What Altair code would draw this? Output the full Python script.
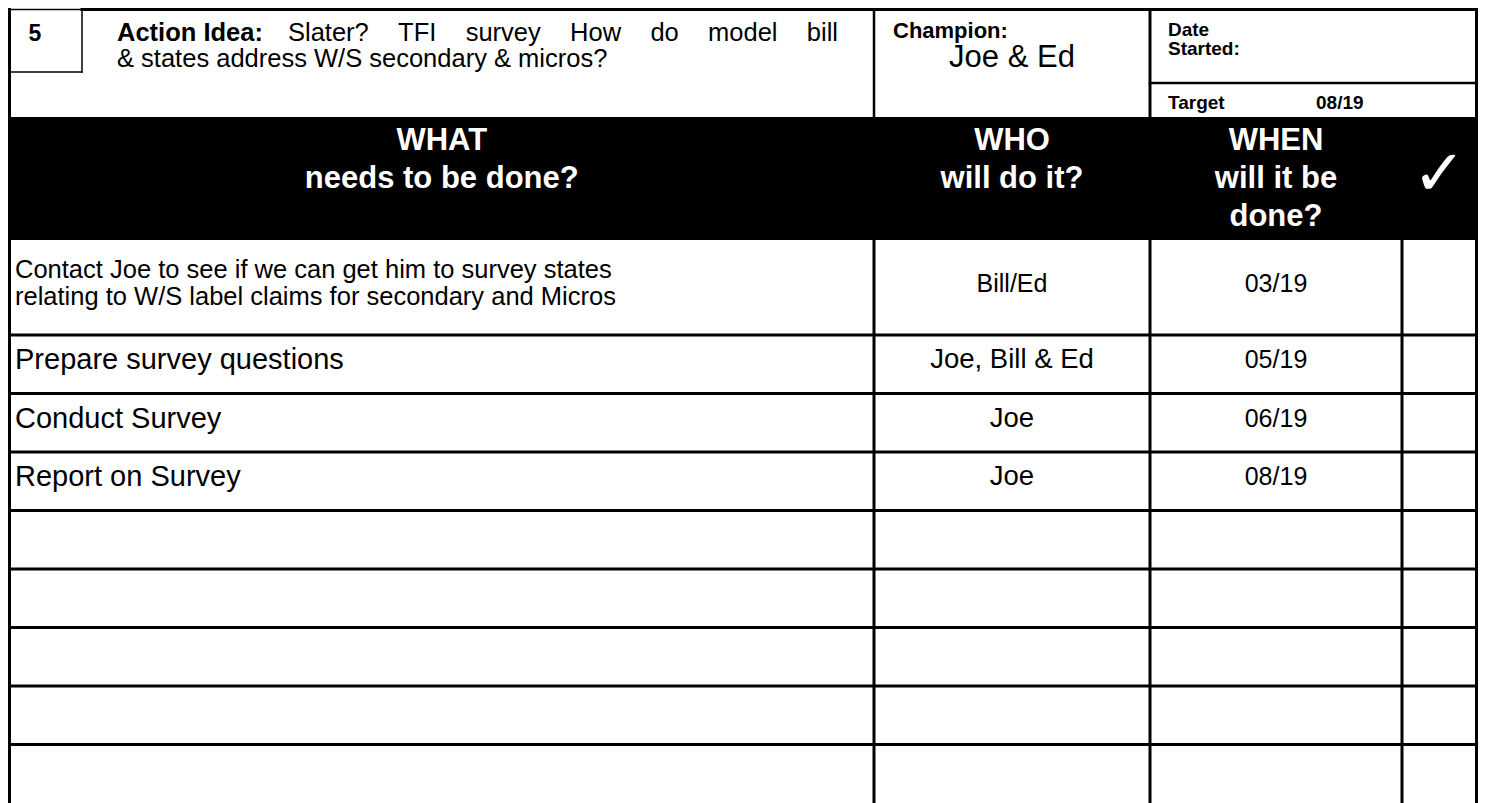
import altair as alt
import pandas as pd

# ---------------- data (text content of the form) ----------------
FORM_NUMBER = "5"
ACTION_LABEL = "Action Idea:"
ACTION_WORDS_1 = ["Slater?", "TFI", "survey", "How", "do", "model", "bill"]   # justified line
ACTION_TEXT_2 = "& states address W/S secondary & micros?"
CHAMPION_LABEL = "Champion:"
CHAMPION = "Joe & Ed"
DATE_LABEL = ["Date", "Started:"]
TARGET_LABEL = "Target"
TARGET = "08/19"
HEADERS = [["WHAT", "needs to be done?"],
           ["WHO", "will do it?"],
           ["WHEN", "will it be", "done?"]]
CHECK = "\u2713"
TASKS = [["Contact Joe to see if we can get him to survey states",
          "relating to W/S label claims for secondary and Micros"],
         ["Prepare survey questions"],
         ["Conduct Survey"],
         ["Report on Survey"],
         [], [], [], [], []]
WHO = ["Bill/Ed", "Joe, Bill & Ed", "Joe", "Joe", "", "", "", "", ""]
WHEN = ["03/19", "05/19", "06/19", "08/19", "", "", "", "", ""]

# ---------------- layout (page pixel units) ----------------
W, H = 1470, 795
X0, X1 = 9.5, 1476.5
TOP, BOTTOM = 9.5, 803
COLS = [X0, 874, 1150, 1402, X1]
HEAD_TOP, HEAD_BOT = 117, 240
ROW_EDGES = [240, 335, 393.5, 452, 510.5, 569, 627.5, 686, 744.5, 803]
BOX_R, BOX_B = 82, 72
DATE_SPLIT = 83
FONT = "Liberation Sans"

# approximate Arial advance widths (per 1000 em) used to justify line 1
ADV = {"S": 667, "l": 222, "a": 556, "t": 278, "e": 556, "r": 333, "?": 556,
       "T": 611, "F": 611, "I": 278, "s": 500, "u": 556, "v": 500, "y": 500,
       "H": 722, "o": 556, "w": 722, "d": 556, "m": 833, "b": 556, "i": 222}
def text_width(s, size):
    return sum(ADV.get(c, 556) for c in s) * size / 1000.0

xs = alt.Scale(domain=[8, 8 + W], nice=False, zero=False)
ys = alt.Scale(domain=[8, 8 + H], nice=False, zero=False, reverse=True)

# ---------------- lines ----------------
lines = []
def seg(x, y, x2, y2, w):
    lines.append(dict(x=x, y=y, x2=x2, y2=y2, w=w))

seg(BOX_R, TOP, X1, TOP, 3)           # top border
seg(X0, TOP, X0, BOTTOM, 3)           # left border
seg(X1, TOP, X1, BOTTOM, 3)           # right border
seg(COLS[1], TOP, COLS[1], HEAD_TOP, 2.5)
seg(COLS[2], TOP, COLS[2], HEAD_TOP, 3)
seg(COLS[2], DATE_SPLIT, X1, DATE_SPLIT, 2.5)
for e in ROW_EDGES[1:-1]:
    seg(X0, e, X1, e, 3)
for c in COLS[1:-1]:
    seg(c, HEAD_BOT, c, BOTTOM, 3)
# number box
seg(X0, TOP, BOX_R, TOP, 1.5)
seg(BOX_R, TOP, BOX_R, BOX_B, 1.5)
seg(X0, BOX_B, BOX_R, BOX_B, 1.5)
lines_df = pd.DataFrame(lines)

rules = alt.Chart(lines_df).mark_rule(color="black", strokeCap="square").encode(
    x=alt.X("x:Q", scale=xs, axis=None),
    x2="x2:Q",
    y=alt.Y("y:Q", scale=ys, axis=None),
    y2="y2:Q",
    strokeWidth=alt.StrokeWidth("w:Q", scale=None, legend=None),
)

header_df = pd.DataFrame([dict(x=X0 - 1.5, x2=X1 + 1.5, y=HEAD_TOP, y2=HEAD_BOT)])
header_rect = alt.Chart(header_df).mark_rect(color="black").encode(
    x=alt.X("x:Q", scale=xs, axis=None), x2="x2:Q",
    y=alt.Y("y:Q", scale=ys, axis=None), y2="y2:Q",
)

def text_layer(rows, size, weight="normal", align="left", color="black", font=FONT):
    df = pd.DataFrame(rows)
    return alt.Chart(df).mark_text(
        font=font, fontSize=size, fontWeight=weight, align=align,
        baseline="middle", color=color,
    ).encode(
        x=alt.X("x:Q", scale=xs, axis=None),
        y=alt.Y("y:Q", scale=ys, axis=None),
        text="t:N",
    )

layers = [header_rect, rules]

# top section
TOP_SIZE = 25.5
L1_Y, L2_Y = 33, 59
layers.append(text_layer([dict(x=35, y=34, t=FORM_NUMBER)], 23, "bold", "center"))
layers.append(text_layer([dict(x=117, y=L1_Y, t=ACTION_LABEL)], 25.5, "bold"))
# justified first line: words spread between x=290 and x=838
J_START, J_END = 288, 838
ws = [text_width(w, TOP_SIZE) for w in ACTION_WORDS_1]
gap = (J_END - J_START - sum(ws)) / (len(ws) - 1)
rows1, xcur = [], J_START
for w, wd in zip(ACTION_WORDS_1, ws):
    rows1.append(dict(x=xcur, y=L1_Y, t=w))
    xcur += wd + gap
rows1.append(dict(x=117, y=L2_Y, t=ACTION_TEXT_2))
layers.append(text_layer(rows1, TOP_SIZE))
layers.append(text_layer([dict(x=893, y=31, t=CHAMPION_LABEL)], 22, "bold"))
layers.append(text_layer([dict(x=(COLS[1] + COLS[2]) / 2, y=58, t=CHAMPION)], 31, align="center"))
layers.append(text_layer([dict(x=1168, y=30, t=DATE_LABEL[0]),
                          dict(x=1168, y=49, t=DATE_LABEL[1]),
                          dict(x=1168, y=103, t=TARGET_LABEL),
                          dict(x=1316, y=103, t=TARGET)], 19, "bold"))

# header
hrows = []
for i, lines_ in enumerate(HEADERS):
    cx = (COLS[i] + COLS[i + 1]) / 2
    for j, t in enumerate(lines_):
        hrows.append(dict(x=cx, y=141 + j * 38, t=t))
layers.append(text_layer(hrows, 31, "bold", "center", "white"))
layers.append(text_layer([dict(x=(COLS[3] + COLS[4]) / 2, y=176, t=CHECK)], 64,
                         "normal", "center", "white", "DejaVu Sans"))

# body
t_small, t_big, c_small, c_big = [], [], [], []
for r in range(len(TASKS)):
    cy = (ROW_EDGES[r] + ROW_EDGES[r + 1]) / 2 - 4
    n = len(TASKS[r])
    tgt = t_small if n > 1 else t_big
    cgt = c_small if n > 1 else c_big
    for j, t in enumerate(TASKS[r]):
        tgt.append(dict(x=15, y=cy + (j - (n - 1) / 2) * 27, t=t))
    if WHO[r]:
        cgt.append(dict(x=(COLS[1] + COLS[2]) / 2, y=cy, t=WHO[r]))
    if WHEN[r]:
        c_small.append(dict(x=(COLS[2] + COLS[3]) / 2, y=cy, t=WHEN[r]))
layers.append(text_layer(t_small, 25.5))
layers.append(text_layer(t_big, 29))
layers.append(text_layer(c_small, 25, align="center"))
layers.append(text_layer(c_big, 27.5, align="center"))

chart = alt.layer(*layers).properties(
    width=W, height=H, autosize=alt.AutoSizeParams(type="none"), padding=0,
    background="white",
).configure_view(stroke=None)

chart.save("out.html", embed_options={"renderer": "svg", "actions": False})
